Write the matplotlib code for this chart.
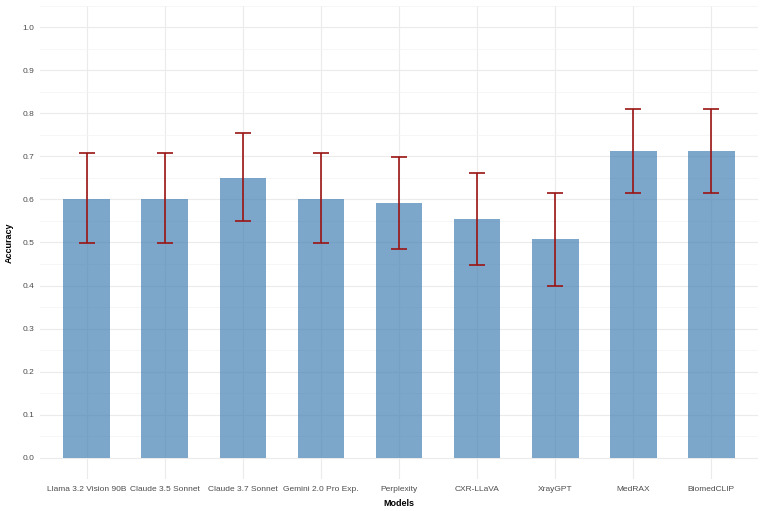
import numpy as np
import matplotlib
matplotlib.use("Agg")
import matplotlib.pyplot as plt

# Accuracy with 95% CI per model
models = ["Llama 3.2 Vision 90B", "Claude 3.5 Sonnet", "Claude 3.7 Sonnet",
          "Gemini 2.0 Pro Exp.", "Perplexity", "CXR-LLaVA", "XrayGPT",
          "MedRAX", "BiomedCLIP"]
accuracy = [0.602, 0.602, 0.651, 0.602, 0.591, 0.555, 0.507, 0.712, 0.712]
ci_low = [0.498, 0.498, 0.550, 0.498, 0.486, 0.448, 0.399, 0.614, 0.614]
ci_high = [0.709, 0.709, 0.754, 0.709, 0.698, 0.662, 0.615, 0.810, 0.810]

plt.rcParams['font.family'] = ['Liberation Sans', 'DejaVu Sans']

fig = plt.figure(figsize=(7.6, 5.11), dpi=100)
ax = fig.add_axes([40 / 760, 1 - 479 / 511, 718 / 760, 473 / 511])

x = np.arange(len(models))
acc = np.array(accuracy)
yerr = [acc - np.array(ci_low), np.array(ci_high) - acc]

ax.bar(x, acc, width=0.6, color='steelblue', alpha=0.7, zorder=2)
ax.errorbar(x, acc, yerr=yerr, fmt='none', ecolor='#9A1414', elinewidth=1.2,
            capsize=5.7, capthick=1.2, zorder=3)

ax.set_xlim(-0.6, len(models) - 0.4)
ax.set_ylim(-0.05, 1.05)
ax.set_yticks(np.arange(0, 1.01, 0.1))
ax.set_yticks(np.arange(-0.05, 1.06, 0.1), minor=True)
ax.set_yticklabels([f"{v:.1f}" for v in np.arange(0, 1.01, 0.1)])
ax.set_xticks(x)
ax.set_xticklabels(models)

ax.grid(True, which='major', color='#EBEBEB', linewidth=0.8, zorder=0)
ax.grid(True, which='minor', axis='y', color='#F3F3F3', linewidth=0.5, zorder=0)
ax.set_axisbelow(True)
for s in ax.spines.values():
    s.set_visible(False)
ax.tick_params(which='both', length=0, labelsize=6.0, labelcolor='#4D4D4D')
ax.tick_params(axis='y', pad=4)
ax.tick_params(axis='x', pad=5)

ax.set_xlabel("Models", fontweight='bold', fontsize=6.5, labelpad=4)
ax.set_ylabel("Accuracy", fontweight='bold', fontsize=6.5, labelpad=6)

fig.savefig("out.png", dpi=100)
